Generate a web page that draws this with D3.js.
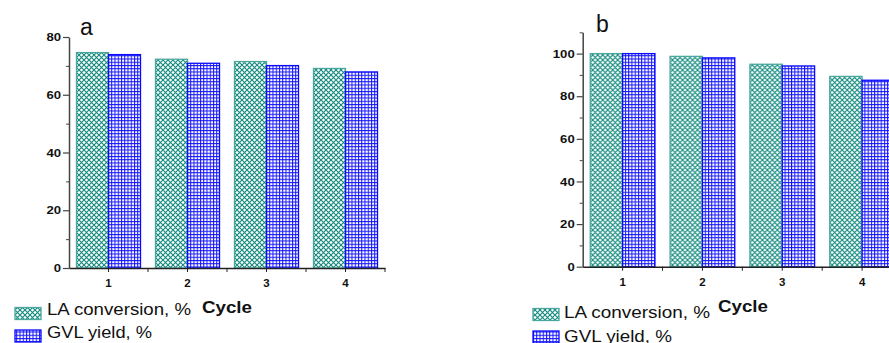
<!DOCTYPE html>
<html lang="en">
<head>
<meta charset="UTF-8">
<title>LA conversion and GVL yield over cycles</title>
<style>
    body { margin: 0; padding: 0; background: #fff; }
    svg { display: block; }
    text { font-family: Arial, "Liberation Sans", sans-serif; }
    .tick text { font-weight: bold; font-size: 11.5px; fill: #111; }
</style>
</head>
<body>
<div id="chart"></div>
<script src="https://d3js.org/d3.v7.min.js"></script>
<script>
    // data
    const cycles = ["1", "2", "3", "4"];
    const seriesNames = ["LA conversion, %", "GVL yield, %"];
    const laA = [74.6, 72.3, 71.5, 69.1];
    const gvlA = [73.9, 70.9, 70.1, 67.9];
    const laB = [100, 98.7, 95.0, 89.3];
    const gvlB = [100, 98.0, 94.2, 87.5];
    const ticksA = [0, 20, 40, 60, 80];
    const ticksB = [0, 20, 40, 60, 80, 100];

    const W = 889, H = 343;
    const svg = d3.select("#chart").append("svg")
        .attr("width", W).attr("height", H);

    // hatch patterns
    const defs = svg.append("defs");
    const px = defs.append("pattern")
        .attr("id", "hatchX")
        .attr("patternUnits", "userSpaceOnUse")
        .attr("width", 5).attr("height", 5);
    px.append("rect").attr("width", 5).attr("height", 5).attr("fill", "#fff");
    px.append("path")
        .attr("d", "M0,0L5,5M5,0L0,5")
        .attr("stroke", "#138a7e").attr("stroke-width", 1.15);

    const pg = defs.append("pattern")
        .attr("id", "grid")
        .attr("patternUnits", "userSpaceOnUse")
        .attr("width", 3.25).attr("height", 3.25);
    pg.append("rect").attr("width", 3.25).attr("height", 3.25).attr("fill", "#fff");
    pg.append("path")
        .attr("d", "M0.5,0V3.25M0,0.5H3.25")
        .attr("stroke", "#1010ff").attr("stroke-width", 1);

    const fills = ["url(#hatchX)", "url(#grid)"];
    const strokes = ["#4aa79e", "#0a0aff"];

    function panel(cfg) {
        const g = svg.append("g");
        const x = d3.scaleBand().domain(cycles).range([cfg.x0, cfg.x1]).padding(0);
        const xs = d3.scaleBand().domain([0, 1]).range([0, x.bandwidth()]).paddingOuter(0.234).paddingInner(0);
        const y = d3.scaleLinear().domain(cfg.domain).range([cfg.y0, cfg.y1]);

        const rows = cycles.map((c, i) => ({ c, v: [cfg.la[i], cfg.gvl[i]] }));

        // bars
        const grp = g.selectAll(".grp").data(rows).enter().append("g")
            .attr("transform", d => `translate(${x(d.c)},0)`);
        grp.selectAll("rect").data(d => d.v.map((v, k) => ({ v, k }))).enter().append("rect")
            .attr("x", d => xs(d.k))
            .attr("width", xs.bandwidth())
            .attr("y", d => y(d.v))
            .attr("height", d => y(0) - y(d.v))
            .attr("fill", d => fills[d.k])
            .attr("stroke", d => strokes[d.k])
            .attr("stroke-width", 1.3);

        // y axis with minor ticks
        const minor = d3.range(cfg.domain[0] + 10, cfg.domain[1] + 1, 20);
        g.append("g").attr("transform", `translate(${cfg.x0},0)`)
            .call(d3.axisLeft(y).tickValues(minor).tickSize(3).tickFormat(""))
            .call(a => a.select(".domain").remove())
            .selectAll("line").attr("stroke", "#444");
        const ya = g.append("g").attr("transform", `translate(${cfg.x0},0)`)
            .call(d3.axisLeft(y).tickValues(cfg.ticks).tickSize(6).tickSizeOuter(0).tickPadding(2));
        ya.select(".domain").attr("stroke", "#444").attr("stroke-width", 1.5);
        ya.selectAll("line").attr("stroke", "#444").attr("stroke-width", 1.2);
        ya.selectAll("text")
            .attr("textLength", d => String(d).length * 7.3)
            .attr("lengthAdjust", "spacingAndGlyphs");

        // x axis: major ticks at centres, minor at band edges
        const xa = g.append("g").attr("transform", `translate(0,${cfg.y0})`)
            .call(d3.axisBottom(x).tickSize(4).tickSizeOuter(0).tickPadding(7));
        xa.select(".domain").attr("stroke", "#222").attr("stroke-width", 1.5);
        xa.selectAll("line").attr("stroke", "#222");
        g.append("g").selectAll("line").data(cycles.slice(1).concat(["end"])).enter().append("line")
            .attr("x1", d => d === "end" ? x.range()[1] : x(d))
            .attr("x2", d => d === "end" ? x.range()[1] : x(d))
            .attr("y1", cfg.y0).attr("y2", cfg.y0 + 4)
            .attr("stroke", "#222");

        // panel letter
        g.append("text").attr("x", cfg.letterX).attr("y", cfg.letterY)
            .attr("font-size", "23px").attr("fill", "#111").text(cfg.letter);

        // legend
        const L = cfg.legend;
        seriesNames.forEach((name, k) => {
            g.append("rect")
                .attr("x", L.sx).attr("y", L.sy[k])
                .attr("width", 26).attr("height", 12)
                .attr("fill", fills[k]).attr("stroke", strokes[k]).attr("stroke-width", 1.3);
            g.append("text")
                .attr("x", L.tx).attr("y", L.ty[k])
                .attr("font-size", "16.5px").attr("fill", "#111")
                .attr("textLength", L.tw[k]).attr("lengthAdjust", "spacingAndGlyphs")
                .text(name);
        });
        g.append("text").attr("x", L.cx).attr("y", L.cy)
            .attr("font-size", "17px").attr("font-weight", "bold").attr("fill", "#111")
            .attr("textLength", 50).attr("lengthAdjust", "spacingAndGlyphs")
            .text("Cycle");
    }

    panel({
        x0: 69, x1: 385, y0: 268, y1: 37, domain: [0, 80], ticks: ticksA,
        la: laA, gvl: gvlA, letter: "a", letterX: 80, letterY: 35,
        legend: { sx: 15, sy: [307.5, 330], tx: 47, ty: [315, 338], tw: [144, 105], cx: 202, cy: 313 }
    });

    panel({
        x0: 582.7, x1: 902, y0: 266.7, y1: 32.3, domain: [0, 110], ticks: ticksB,
        la: laB, gvl: gvlB, letter: "b", letterX: 596, letterY: 31.5,
        legend: { sx: 533, sy: [308.5, 331], tx: 564, ty: [318, 341.5], tw: [146, 108], cx: 718, cy: 312 }
    });
</script>
</body>
</html>
